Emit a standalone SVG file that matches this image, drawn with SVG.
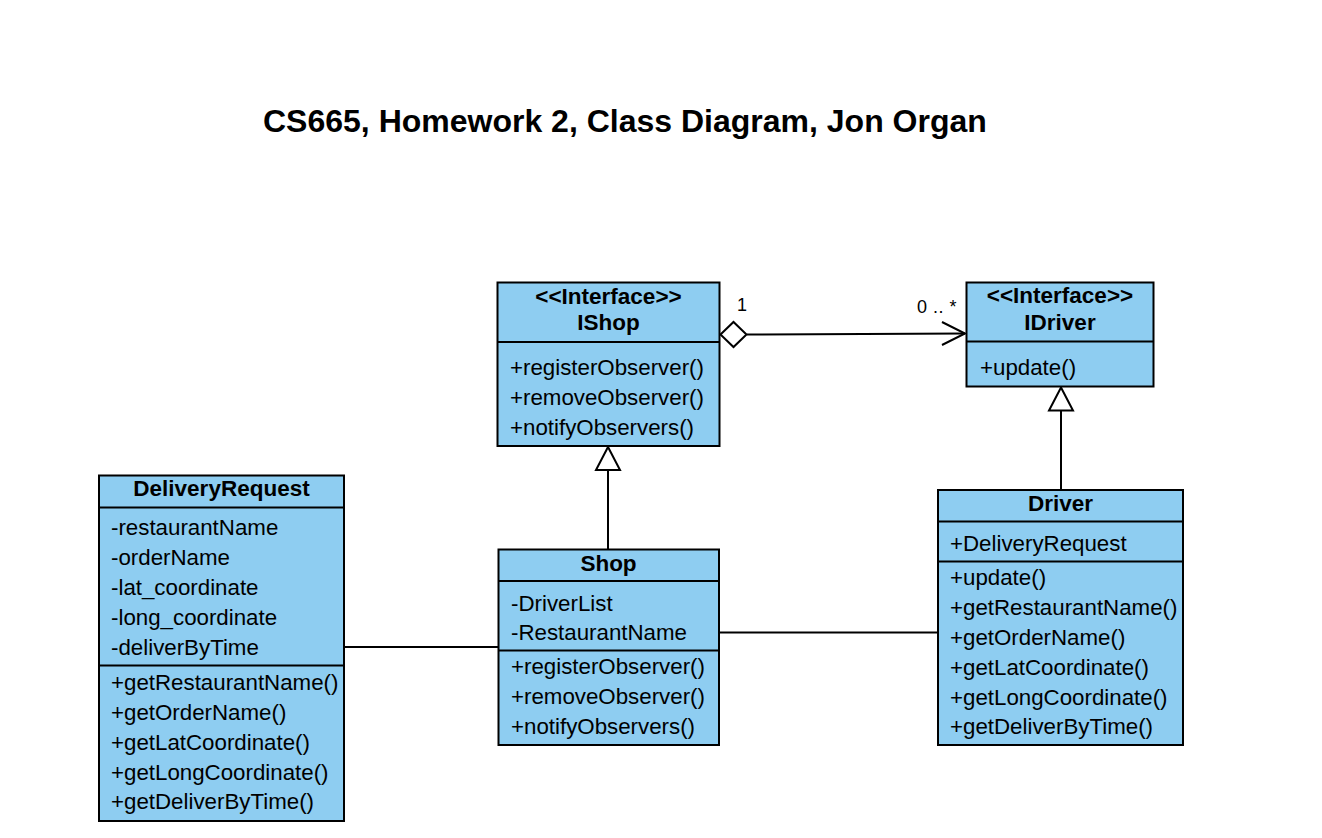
<svg xmlns="http://www.w3.org/2000/svg" width="1322" height="838" viewBox="0 0 1322 838">
<style>
.box{fill:#8ECDF1;stroke:#000;stroke-width:2}
.ln{stroke:#000;stroke-width:2;fill:none}
.t{font-family:"Liberation Sans",Arial,Helvetica,sans-serif;font-size:22.3px;fill:#000}
.h{font-family:"Liberation Sans",Arial,Helvetica,sans-serif;font-size:22.5px;font-weight:bold;fill:#000;text-anchor:middle}
.lbl{font-family:"Liberation Sans",Arial,Helvetica,sans-serif;font-size:18px;fill:#000}
.title{font-family:"Liberation Sans",Arial,Helvetica,sans-serif;font-size:32px;font-weight:bold;fill:#000}
</style>
<rect width="1322" height="838" fill="#fff"/>
<text class="title" x="263" y="132">CS665, Homework 2, Class Diagram, Jon Organ</text>

<g id="connectors">
  <line class="ln" x1="344" y1="647" x2="499" y2="647"/>
  <line class="ln" x1="719" y1="632.5" x2="938" y2="632.5"/>
  <line class="ln" x1="608" y1="549" x2="608" y2="470"/>
  <polygon points="608,447 596,470 620,470" fill="#fff" stroke="#000" stroke-width="2"/>
  <line class="ln" x1="1061" y1="490" x2="1061" y2="410.5"/>
  <polygon points="1061,387.5 1049,410.5 1073,410.5" fill="#fff" stroke="#000" stroke-width="2"/>
  <line class="ln" x1="747" y1="334.5" x2="965" y2="333.5"/>
  <polygon points="720.5,334.5 733.5,322 746.5,334.5 733.5,347" fill="#fff" stroke="#000" stroke-width="2"/>
  <polyline class="ln" points="942,322 965,333.5 942,345"/>
  <text class="lbl" x="737" y="311">1</text>
  <text class="lbl" x="917" y="313" letter-spacing="0.5">0 .. *</text>
</g>

<g id="IShop">
  <rect class="box" x="497.5" y="282.5" width="222" height="163.5"/>
  <line class="ln" x1="497.5" y1="342" x2="719.5" y2="342"/>
  <text class="h" x="608.5" y="304">&lt;&lt;Interface&gt;&gt;</text>
  <text class="h" x="608.5" y="330">IShop</text>
  <text class="t" x="510" y="375">+registerObserver()</text>
  <text class="t" x="510" y="405">+removeObserver()</text>
  <text class="t" x="510" y="435">+notifyObservers()</text>
</g>

<g id="IDriver">
  <rect class="box" x="966.5" y="282.5" width="187" height="104"/>
  <line class="ln" x1="966.5" y1="341.5" x2="1153.5" y2="341.5"/>
  <text class="h" x="1060" y="303">&lt;&lt;Interface&gt;&gt;</text>
  <text class="h" x="1060" y="330">IDriver</text>
  <text class="t" x="980" y="375">+update()</text>
</g>

<g id="DeliveryRequest">
  <rect class="box" x="99" y="475.5" width="245" height="345.5"/>
  <line class="ln" x1="99" y1="507.5" x2="344" y2="507.5"/>
  <line class="ln" x1="99" y1="665.5" x2="344" y2="665.5"/>
  <text class="h" x="221.5" y="496">DeliveryRequest</text>
  <text class="t" x="111" y="535">-restaurantName</text>
  <text class="t" x="111" y="565">-orderName</text>
  <text class="t" x="111" y="595">-lat_coordinate</text>
  <text class="t" x="111" y="625">-long_coordinate</text>
  <text class="t" x="111" y="655">-deliverByTime</text>
  <text class="t" x="111" y="690">+getRestaurantName()</text>
  <text class="t" x="111" y="720">+getOrderName()</text>
  <text class="t" x="111" y="750">+getLatCoordinate()</text>
  <text class="t" x="111" y="780">+getLongCoordinate()</text>
  <text class="t" x="111" y="809">+getDeliverByTime()</text>
</g>

<g id="Shop">
  <rect class="box" x="498.5" y="549.5" width="220.5" height="195.5"/>
  <line class="ln" x1="498.5" y1="581" x2="719" y2="581"/>
  <line class="ln" x1="498.5" y1="650.5" x2="719" y2="650.5"/>
  <text class="h" x="608.5" y="571">Shop</text>
  <text class="t" x="511" y="611">-DriverList</text>
  <text class="t" x="511" y="640">-RestaurantName</text>
  <text class="t" x="511" y="674">+registerObserver()</text>
  <text class="t" x="511" y="704">+removeObserver()</text>
  <text class="t" x="511" y="734">+notifyObservers()</text>
</g>

<g id="Driver">
  <rect class="box" x="938" y="490" width="245" height="255"/>
  <line class="ln" x1="938" y1="521.5" x2="1183" y2="521.5"/>
  <line class="ln" x1="938" y1="561.5" x2="1183" y2="561.5"/>
  <text class="h" x="1060.5" y="511">Driver</text>
  <text class="t" x="950" y="551">+DeliveryRequest</text>
  <text class="t" x="950" y="585">+update()</text>
  <text class="t" x="950" y="615">+getRestaurantName()</text>
  <text class="t" x="950" y="645">+getOrderName()</text>
  <text class="t" x="950" y="675">+getLatCoordinate()</text>
  <text class="t" x="950" y="705">+getLongCoordinate()</text>
  <text class="t" x="950" y="734">+getDeliverByTime()</text>
</g>
</svg>
